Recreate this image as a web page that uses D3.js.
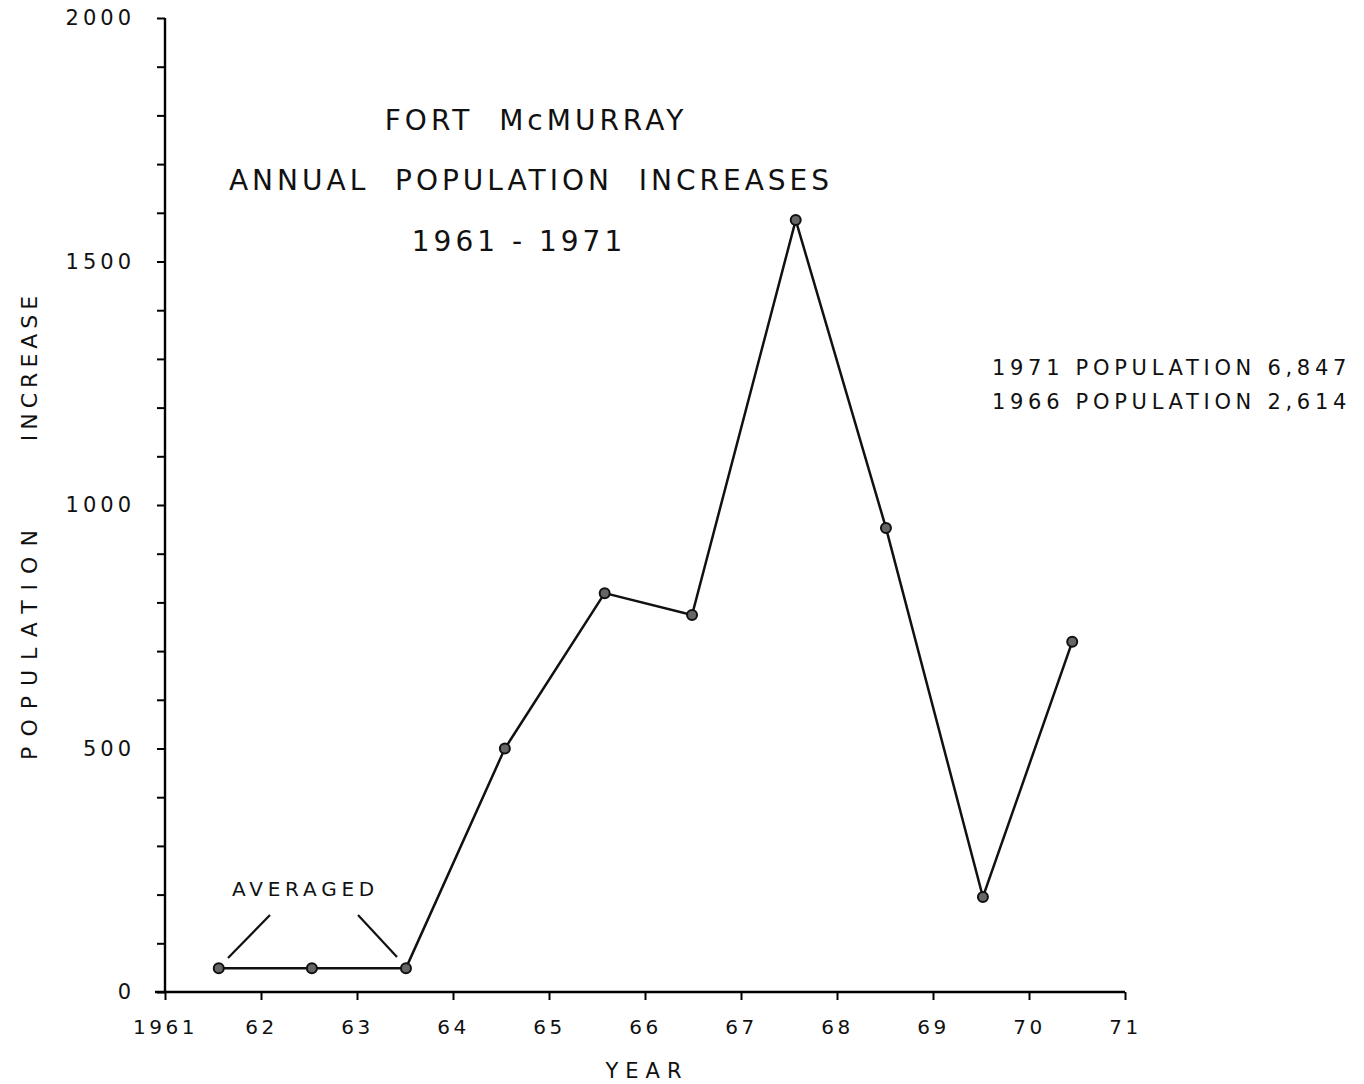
<!DOCTYPE html>
<html>
<head>
<meta charset="utf-8">
<script src="https://cdn.jsdelivr.net/npm/d3@7"></script>
<style>
  body { margin: 0; background: white; }
  svg text { font-family: "DejaVu Sans", sans-serif; fill: #111; }
</style>
</head>
<body>
<div id="chart"></div>
<script>
let w = 1364;
let h = 1084;

// data (mid-year positions)
let years = [1961.56, 1962.53, 1963.51, 1964.54, 1965.58, 1966.49, 1967.57, 1968.51, 1969.52, 1970.45];
let increases = [49, 49, 49, 500, 819, 774, 1585, 953, 195, 719];

let xTicks = [1961, 1962, 1963, 1964, 1965, 1966, 1967, 1968, 1969, 1970, 1971];
let xTickLabels = ["1961", "62", "63", "64", "65", "66", "67", "68", "69", "70", "71"];
let yTicks = [0, 500, 1000, 1500, 2000];

let titleLines = ["FORT  McMURRAY", "ANNUAL  POPULATION  INCREASES", "1961 - 1971"];
let noteLines = ["1971 POPULATION 6,847", "1966 POPULATION 2,614"];

let x = d3.scaleLinear().domain([1961, 1971]).range([165, 1125]);
let y = d3.scaleLinear().domain([0, 2000]).range([992, 18]);

let svg = d3.select("#chart").append("svg")
  .attr("width", w)
  .attr("height", h);

// axes
let xAxis = d3.axisBottom(x)
  .tickValues(xTicks)
  .tickSize(8)
  .tickFormat((d, i) => xTickLabels[i]);

let gx = svg.append("g")
  .attr("transform", "translate(0," + y(0) + ")")
  .call(xAxis);
gx.select(".domain").attr("d", "M155,0H" + x(1971)).attr("stroke-width", 2.4);
gx.selectAll(".tick line").attr("stroke-width", 2);
gx.selectAll(".tick text")
  .attr("y", 28)
  .style("font-size", "20px")
  .style("letter-spacing", "3.5px")
  .style("font-family", "DejaVu Sans");

let yAxis = d3.axisLeft(y)
  .tickValues(d3.range(0, 2001, 100))
  .tickSize(8)
  .tickFormat(d => yTicks.includes(d) ? d : "");

let gy = svg.append("g")
  .attr("transform", "translate(" + x(1961) + ",0)")
  .call(yAxis);
gy.select(".domain").attr("d", "M0," + y(0) + "V" + y(2000)).attr("stroke-width", 2.4);
gy.selectAll(".tick line").attr("stroke-width", 2);
gy.selectAll(".tick text")
  .attr("x", -30)
  .style("font-size", "21px")
  .style("letter-spacing", "4px")
  .style("font-family", "DejaVu Sans");

// line
let pts = years.map((d, i) => [d, increases[i]]);
let line = d3.line().x(d => x(d[0])).y(d => y(d[1]));

svg.append("path")
  .datum(pts)
  .attr("d", line)
  .attr("fill", "none")
  .attr("stroke", "#111")
  .attr("stroke-width", 2.5);

svg.selectAll(".pt").data(pts).enter()
  .append("circle")
  .attr("class", "pt")
  .attr("cx", d => x(d[0]))
  .attr("cy", d => y(d[1]))
  .attr("r", 5)
  .attr("fill", "#666")
  .attr("stroke", "#111")
  .attr("stroke-width", 2);

// title
svg.selectAll(".title").data(titleLines).enter()
  .append("text")
  .attr("x", (d, i) => [536, 531, 519][i])
  .attr("y", (d, i) => [130, 190, 251][i])
  .attr("text-anchor", "middle")
  .style("font-size", "28px")
  .style("letter-spacing", "4px")
  .style("white-space", "pre")
  .text(d => d);

// population notes
svg.selectAll(".note").data(noteLines).enter()
  .append("text")
  .attr("x", 992)
  .attr("y", (d, i) => 375 + i * 34)
  .style("font-size", "21px")
  .style("letter-spacing", "4.7px")
  .text(d => d);

// averaged annotation
svg.append("text")
  .attr("x", 232)
  .attr("y", 896)
  .style("font-size", "20px")
  .style("letter-spacing", "4.8px")
  .text("AVERAGED");

svg.append("line")
  .attr("x1", 228).attr("y1", 958).attr("x2", 270).attr("y2", 915)
  .attr("stroke", "#111").attr("stroke-width", 2.2);
svg.append("line")
  .attr("x1", 358).attr("y1", 915).attr("x2", 397).attr("y2", 957)
  .attr("stroke", "#111").attr("stroke-width", 2.2);

// axis titles
svg.append("text")
  .attr("x", 647)
  .attr("y", 1078)
  .attr("text-anchor", "middle")
  .style("font-size", "21px")
  .style("letter-spacing", "7px")
  .text("YEAR");

svg.append("text")
  .attr("transform", "translate(37,640) rotate(-90)")
  .attr("text-anchor", "middle")
  .style("font-size", "22px")
  .style("letter-spacing", "10px")
  .text("POPULATION");

svg.append("text")
  .attr("transform", "translate(37,366) rotate(-90)")
  .attr("text-anchor", "middle")
  .style("font-size", "22px")
  .style("letter-spacing", "5px")
  .text("INCREASE");
</script>
</body>
</html>
